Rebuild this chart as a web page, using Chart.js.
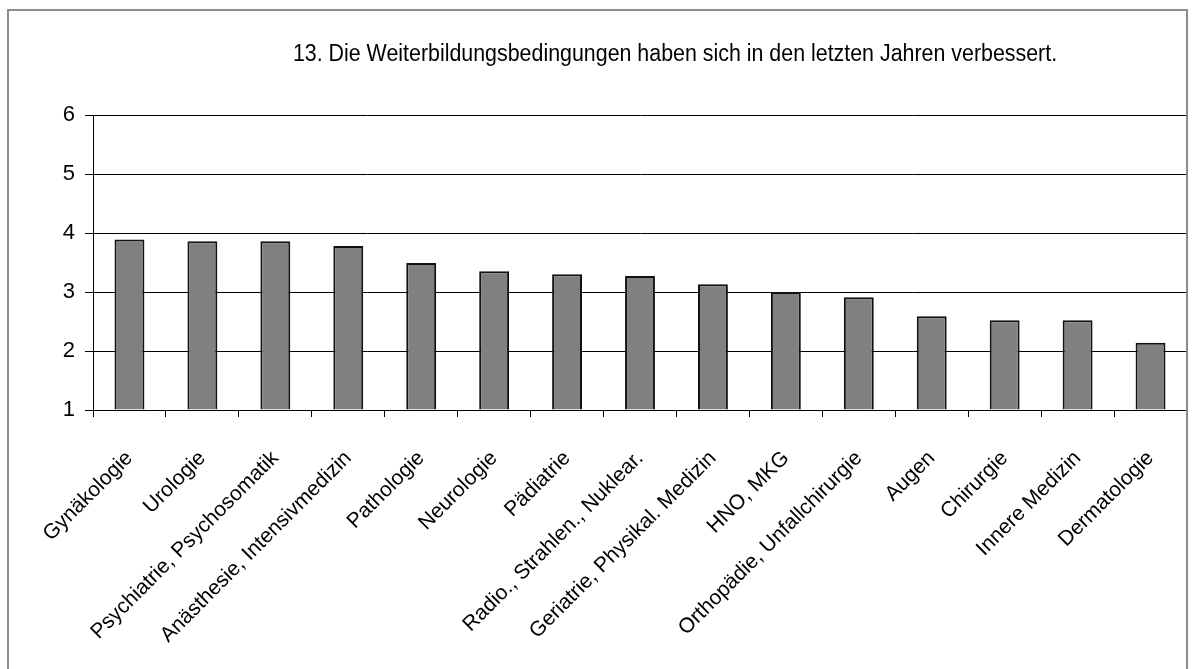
<!DOCTYPE html>
<html>
<head>
<meta charset="utf-8">
<script src="https://cdn.jsdelivr.net/npm/chart.js@4"></script>
<style>
  html, body { margin: 0; padding: 0; background: #fff; }
  #wrap { width: 1194px; height: 669px; }
</style>
</head>
<body>
<div id="wrap"><canvas id="bars"></canvas></div>
<script>
var titleText = "13. Die Weiterbildungsbedingungen haben sich in den letzten Jahren verbessert.";

var fachrichtungen = [
  "Gynäkologie", "Urologie", "Psychiatrie, Psychosomatik", "Anästhesie, Intensivmedizin",
  "Pathologie", "Neurologie", "Pädiatrie", "Radio., Strahlen., Nuklear.",
  "Geriatrie, Physikal. Medizin", "HNO, MKG", "Orthopädie, Unfallchirurgie",
  "Augen", "Chirurgie", "Innere Medizin", "Dermatologie"
];
var mittelwerte = [3.89, 3.86, 3.86, 3.78, 3.49, 3.35, 3.30, 3.27, 3.13, 3.00, 2.91, 2.59, 2.52, 2.52, 2.14];
var yTicks = [1, 2, 3, 4, 5, 6];

var fontFam = "'Liberation Sans', Arial, sans-serif";

// grey frame + title drawn on the canvas
var framePlugin = {
  id: "frame",
  beforeDraw: function (chart) {
    var c = chart.ctx;
    c.save();
    c.fillStyle = "#fff";
    c.fillRect(0, 0, chart.width, chart.height);
    c.restore();
  },
  afterDraw: function (chart) {
    var c = chart.ctx;
    c.save();
    c.strokeStyle = "#8c8c8c";
    c.lineWidth = 2;
    c.strokeRect(8, 10, 1179, 700);
    // title is a bit narrower than plain Arial
    c.translate(675, 55);
    c.scale(0.93, 1);
    c.font = "23px " + fontFam;
    c.fillStyle = "#000";
    c.textAlign = "center";
    c.textBaseline = "middle";
    c.fillText(titleText, 0, 0);
    c.restore();
  }
};

var ctx = document.getElementById("bars").getContext("2d");
var chart = new Chart(ctx, {
  type: "bar",
  data: {
    labels: fachrichtungen,
    datasets: [
      {
        label: "Mittelwert",
        data: mittelwerte,
        backgroundColor: "#808080",
        borderColor: "#111",
        borderWidth: 2,
        categoryPercentage: 1,
        barPercentage: 0.41,
        base: 1,
      },
    ],
  },
  plugins: [framePlugin],
  options: {
    responsive: true,
    maintainAspectRatio: false,
    animation: false,
    layout: { padding: { left: 0, right: 7, top: 115, bottom: 0 } },
    plugins: {
      legend: { display: false },
      title: { display: false },
      tooltip: { enabled: false },
    },
    scales: {
      x: {
        grid: {
          offset: true,
          drawOnChartArea: false,
          color: "#000",
          tickLength: 7,
        },
        border: { color: "#000", width: 1 },
        ticks: {
          minRotation: 45,
          maxRotation: 45,
          autoSkip: false,
          padding: 29,
          color: "#000",
          font: { family: fontFam, size: 21 },
        },
        afterFit: function (scale) {
          scale.height = 259;
          // rotated labels must not shrink the plot area
          scale.paddingLeft = 0;
          scale.paddingRight = 0;
        },
      },
      y: {
        min: 1,
        max: 6,
        afterBuildTicks: function (scale) {
          scale.ticks = yTicks.map(function (v) { return { value: v }; });
        },
        grid: { color: "#000", lineWidth: 1, tickLength: 8 },
        border: { color: "#000", width: 1 },
        ticks: {
          padding: 10,
          color: "#000",
          font: { family: fontFam, size: 22 },
        },
        afterFit: function (scale) { scale.width = 93; },
      },
    },
  },
});
</script>
</body>
</html>
